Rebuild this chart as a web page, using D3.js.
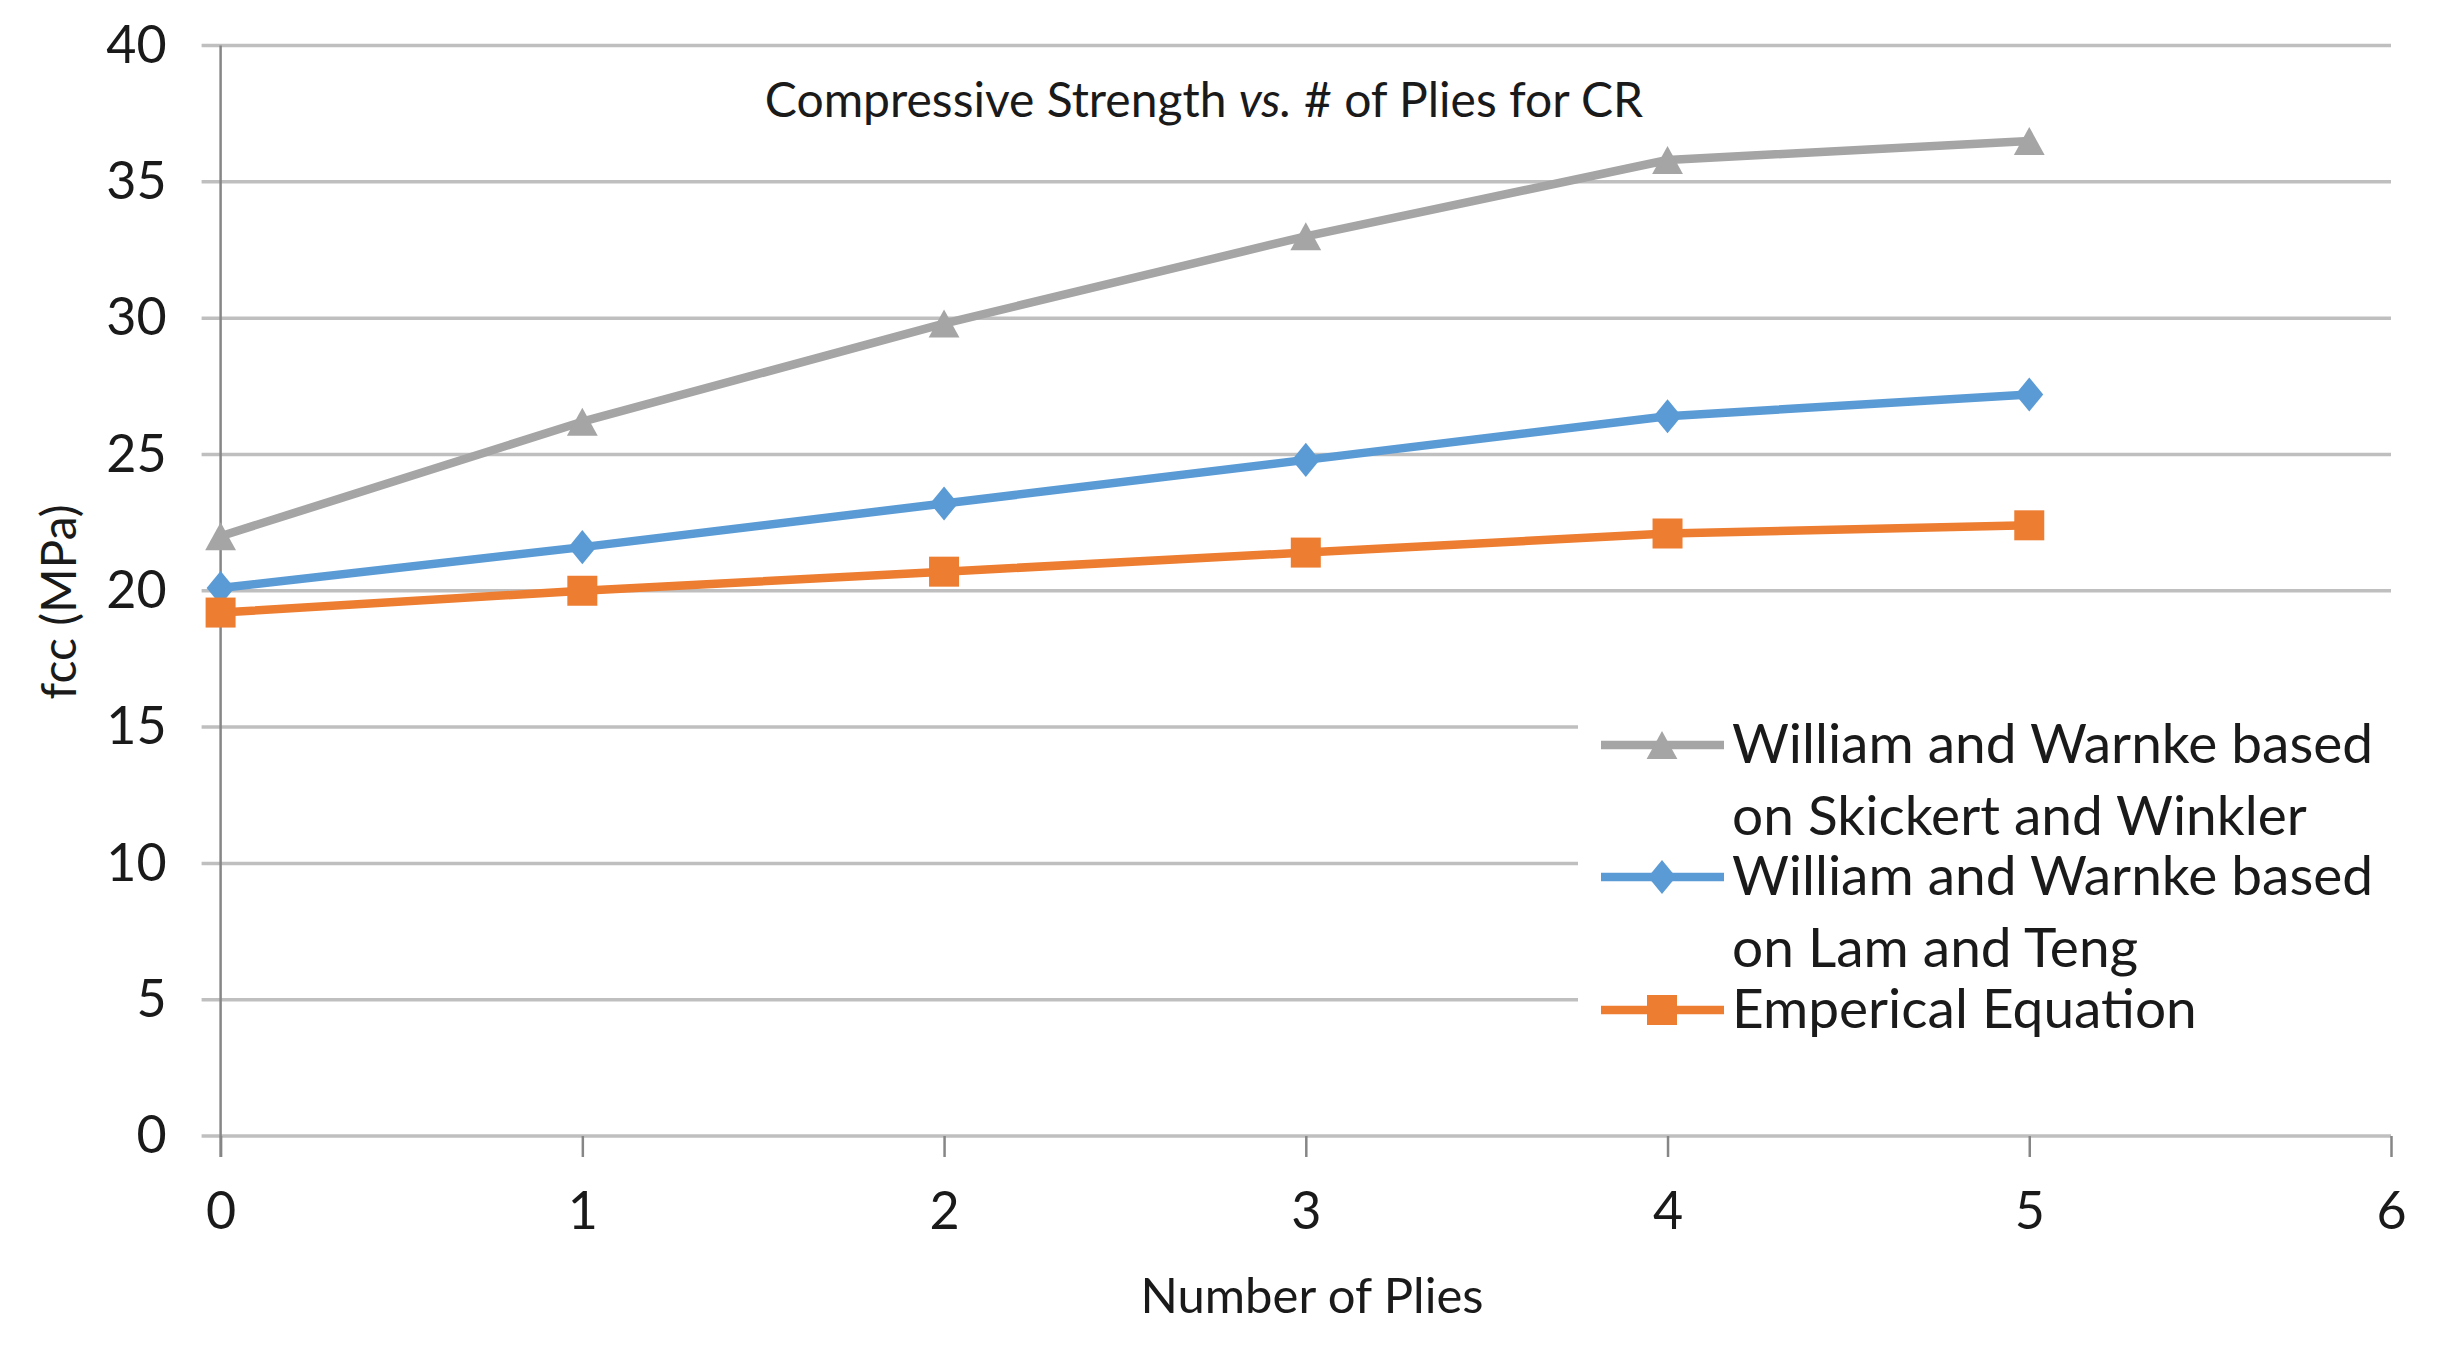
<!DOCTYPE html>
<html>
<head>
<meta charset="utf-8">
<script src="https://cdn.jsdelivr.net/npm/d3@7"></script>
<style>
  body { margin: 0; background: #fff; }
  svg { display: block; }
  text { font-family: Lato, "Open Sans", sans-serif; fill: #1a1a1a; }
</style>
</head>
<body>
<svg id="chart"></svg>
<script>
// values
const plies = [0, 1, 2, 3, 4, 5];
const skickertWinkler = [22.0, 26.2, 29.8, 33.0, 35.8, 36.5];
const lamTeng = [20.1, 21.6, 23.2, 24.8, 26.4, 27.2];
const emperical = [19.2, 20.0, 20.7, 21.4, 22.1, 22.4];
const yTicks = [0, 5, 10, 15, 20, 25, 30, 35, 40];
const xTicks = [0, 1, 2, 3, 4, 5, 6];
const legendLines = [
  ["William and Warnke based", "on Skickert and Winkler"],
  ["William and Warnke based", "on Lam and Teng"],
  ["Emperical Equation"]
];

const W = 2462, H = 1360;
const svg = d3.select("#chart").attr("width", W).attr("height", H);

const x = d3.scaleLinear().domain([0, 6]).range([220.6, 2391]);
const y = d3.scaleLinear().domain([0, 40]).range([1136, 45.5]);

const gridColor = "#bfbfbf", axisColor = "#868686";

// gridlines (they stick out a bit left of the axis)
svg.append("g")
  .selectAll("line")
  .data(yTicks)
  .join("line")
  .attr("x1", x(0) - 19).attr("x2", x(6))
  .attr("y1", d => y(d)).attr("y2", d => y(d))
  .attr("stroke", gridColor).attr("stroke-width", 3.5);

// y labels
const yAxis = svg.append("g")
  .attr("transform", `translate(${x(0) - 19},0)`)
  .call(d3.axisLeft(y).tickValues(yTicks).tickSize(0).tickPadding(35));
yAxis.select(".domain").remove();
yAxis.selectAll("text").style("font-size", "52px").style("font-family", "Lato, sans-serif").attr("fill", "#1a1a1a");

// x axis ticks + labels
const xAxis = svg.append("g")
  .attr("transform", `translate(0,${y(0)})`)
  .call(d3.axisBottom(x).tickValues(xTicks).tickFormat(d3.format("d")).tickSize(21).tickPadding(35));
xAxis.select(".domain").remove();
xAxis.selectAll("line").attr("stroke", axisColor).attr("stroke-width", 2.5);
xAxis.selectAll("text").style("font-size", "52px").style("font-family", "Lato, sans-serif").attr("fill", "#1a1a1a");

// y axis line
svg.append("line")
  .attr("x1", x(0)).attr("x2", x(0))
  .attr("y1", y(40)).attr("y2", y(0) + 21)
  .attr("stroke", axisColor).attr("stroke-width", 2.5);

// legend sits on a white box that hides the gridlines behind it
svg.append("rect")
  .attr("x", 1578).attr("y", 700).attr("width", W - 1578).attr("height", 345)
  .attr("fill", "#fff");

// marker shapes
function triangle(s) { return `M0,${-s*0.5}L${s*0.55},${s*0.5}L${-s*0.55},${s*0.5}Z`; }
function diamond(s) { return `M0,${-s*0.55}L${s*0.45},0L0,${s*0.55}L${-s*0.45},0Z`; }
function square(s) { return `M${-s/2},${-s/2}h${s}v${s}h${-s}Z`; }

const series = [
  { values: skickertWinkler, color: "#a5a5a5", marker: triangle, size: 28 },
  { values: lamTeng, color: "#5b9bd5", marker: diamond, size: 31 },
  { values: emperical, color: "#ed7d31", marker: square, size: 30 }
];

const line = d3.line().x((d, i) => x(plies[i])).y(d => y(d));

series.forEach(s => {
  const g = svg.append("g");
  g.append("path")
    .attr("d", line(s.values))
    .attr("fill", "none")
    .attr("stroke", s.color)
    .attr("stroke-width", 8.5)
    .attr("stroke-linejoin", "round");
  g.selectAll("path.m")
    .data(s.values)
    .join("path")
    .attr("class", "m")
    .attr("d", s.marker(s.size))
    .attr("transform", (d, i) => `translate(${x(plies[i])},${y(d)})`)
    .attr("fill", s.color);
});

// legend
const legendY = [745, 877, 1010];
series.forEach((s, i) => {
  const g = svg.append("g").attr("transform", `translate(0,${legendY[i]})`);
  g.append("line")
    .attr("x1", 1601).attr("x2", 1724)
    .attr("stroke", s.color).attr("stroke-width", 8.5);
  g.append("path")
    .attr("d", s.marker(s.size))
    .attr("transform", "translate(1662,0)")
    .attr("fill", s.color);
  legendLines[i].forEach((t, j) => {
    g.append("text")
      .attr("x", 1732)
      .attr("y", 18 + j * 72)
      .style("font-size", "55px")
      .text(t);
  });
});

// title
const title = svg.append("text")
  .attr("x", 1204).attr("y", 117)
  .attr("text-anchor", "middle")
  .style("font-size", "48px");
title.append("tspan").text("Compressive Strength ");
title.append("tspan").style("font-style", "italic").text("vs.");
title.append("tspan").text(" # of Plies for CR");

// axis titles
svg.append("text")
  .attr("x", 1312).attr("y", 1313)
  .attr("text-anchor", "middle")
  .style("font-size", "49px")
  .text("Number of Plies");

svg.append("text")
  .attr("transform", "translate(76,602) rotate(-90)")
  .attr("text-anchor", "middle")
  .style("font-size", "48px")
  .text("fcc (MPa)");
</script>
</body>
</html>
